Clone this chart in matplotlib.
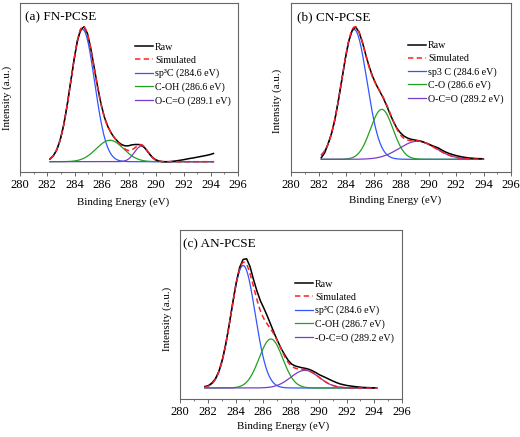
import numpy as np
import matplotlib
matplotlib.use("Agg")
import matplotlib.pyplot as plt
from matplotlib.ticker import MultipleLocator

plt.rcParams['font.family'] = ['Liberation Serif', 'DejaVu Serif']

# ---------------- data ----------------
x_ticks = [280, 282, 284, 286, 288, 290, 292, 294, 296]
xlabel = "Binding Energy (eV)"
ylabel = "Intensity (a.u.)"
legend_raw = "Raw"
legend_sim = "Simulated"

# Panel (a) FN-PCSE
a_title = "(a) FN-PCSE"
a_raw_start = 282.2
a_raw = [0.02, 0.045, 0.09, 0.165, 0.275, 0.42, 0.59, 0.76, 0.91, 1.0,
         1.02, 0.97, 0.855, 0.71, 0.565, 0.435, 0.335, 0.265, 0.215, 0.178,
         0.15, 0.13, 0.12, 0.12, 0.127, 0.13, 0.13, 0.125, 0.1, 0.066,
         0.035, 0.015, 0.005, 0.0, 0.0, 0.0, 0.003, 0.006, 0.01, 0.014,
         0.019, 0.024, 0.028, 0.033, 0.038, 0.043, 0.048, 0.054, 0.062]
a_fit_range = [282.2, 294.2]
a_centers = [284.6, 286.6, 288.9]
a_heights = [1.0, 0.162, 0.117]
a_sigmas = [0.87, 1.0, 0.5]
a_labels = ["sp³C (284.6 eV)", "C-OH (286.6 eV)", "O-C=O (289.1 eV)"]

# Panel (b) CN-PCSE
b_title = "(b) CN-PCSE"
b_raw_start = 282.2
b_raw = [0.012, 0.05, 0.12, 0.2, 0.31, 0.455, 0.615, 0.775, 0.91, 0.995,
         1.02, 0.98, 0.9, 0.8, 0.71, 0.635, 0.575, 0.525, 0.475, 0.415,
         0.35, 0.29, 0.24, 0.205, 0.18, 0.165, 0.155, 0.15, 0.145, 0.14,
         0.13, 0.12, 0.108, 0.098, 0.088, 0.072, 0.058, 0.047, 0.038, 0.03,
         0.024, 0.018, 0.014, 0.01, 0.008, 0.006, 0.005, 0.004]
b_fit_range = [282.2, 294.0]
b_centers = [284.6, 286.6, 289.2]
b_heights = [1.0, 0.385, 0.139]
b_sigmas = [0.92, 0.82, 1.33]
b_labels = ["sp3 C (284.6 eV)", "C-O (286.6 eV)", "O-C=O (289.2 eV)"]

# Panel (c) AN-PCSE
c_title = "(c) AN-PCSE"
c_raw_start = 281.8
c_raw = [0.012, 0.02, 0.04, 0.075, 0.135, 0.23, 0.36, 0.52, 0.695, 0.86,
         0.985, 1.05, 1.055, 0.99, 0.885, 0.79, 0.71, 0.65, 0.585, 0.515,
         0.445, 0.38, 0.32, 0.27, 0.225, 0.195, 0.18, 0.172, 0.165, 0.16,
         0.152, 0.14, 0.125, 0.108, 0.095, 0.082, 0.068, 0.055, 0.043, 0.033,
         0.026, 0.02, 0.016, 0.012, 0.009, 0.006, 0.004, 0.003, 0.002, 0.001]
c_fit_range = [281.8, 294.2]
c_centers = [284.55, 286.55, 289.0]
c_heights = [1.0, 0.40, 0.144]
c_sigmas = [0.87, 0.85, 1.02]
c_labels = ["sp³C (284.6 eV)", "C-OH (286.7 eV)", "-O-C=O (289.2 eV)"]

RAW_STEP = 0.25

# ---------------- style ----------------
W, H = 520, 437
fig = plt.figure(figsize=(W / 100, H / 100), dpi=100)

def px_axes(l, t, r, b):
    return fig.add_axes([l / W, 1 - b / H, (r - l) / W, (b - t) / H])

comp_colors = ['#3355ff', '#22a022', '#7a3cc8']
spine_col = '#666666'

panels = [
    dict(title=a_title, raw=a_raw, start=a_raw_start, rng=a_fit_range,
         c=a_centers, h=a_heights, s=a_sigmas, labels=a_labels,
         box=(20, 3, 238, 172), ylim=(-0.078, 1.2), tx=0.025,
         leg=(0.528, 0.765), ylab=(-0.037, 0.44), xlab=(0.475, -0.148)),
    dict(title=b_title, raw=b_raw, start=b_raw_start, rng=b_fit_range,
         c=b_centers, h=b_heights, s=b_sigmas, labels=b_labels,
         box=(291, 3, 511, 172), ylim=(-0.098, 1.205), tx=0.026,
         leg=(0.532, 0.775), ylab=(-0.041, 0.42), xlab=(0.475, -0.14)),
    dict(title=c_title, raw=c_raw, start=c_raw_start, rng=c_fit_range,
         c=c_centers, h=c_heights, s=c_sigmas, labels=c_labels,
         box=(180, 230, 402, 399), ylim=(-0.09, 1.29), tx=0.015,
         leg=(0.518, 0.705), ylab=(-0.036, 0.474), xlab=(0.465, -0.13)),
]

for p in panels:
    ax = px_axes(*p['box'])
    xr = p['start'] + RAW_STEP * np.arange(len(p['raw']))
    xf = np.linspace(p['rng'][0], p['rng'][1], 600)
    comps = [hh * np.exp(-(xf - cc) ** 2 / (2 * ss ** 2))
             for cc, hh, ss in zip(p['c'], p['h'], p['s'])]
    sim = np.sum(comps, axis=0)

    ax.plot(xr, p['raw'], color='black', lw=1.1, label=legend_raw, zorder=3)
    ax.plot(xf, sim, color='#ff2020', lw=1.1, ls=(0, (3.5, 2.2)),
            label=legend_sim, zorder=4)
    for comp, col, lab in zip(comps, comp_colors, p['labels']):
        ax.plot(xf, comp, color=col, lw=0.9, label=lab, zorder=2)

    ax.set_xlim(280, 296)
    ax.set_ylim(*p['ylim'])
    ax.set_xticks(x_ticks)
    ax.xaxis.set_minor_locator(MultipleLocator(1))
    ax.set_yticks([])
    ax.tick_params(axis='x', which='major', direction='out', length=3,
                   width=0.7, color=spine_col, labelsize=9, pad=2)
    ax.tick_params(axis='x', which='minor', direction='out', length=1.5,
                   width=0.6, color=spine_col)
    for sp in ax.spines.values():
        sp.set_color(spine_col)
        sp.set_linewidth(0.8)

    ax.set_xlabel(xlabel, fontsize=7.8)
    ax.set_ylabel(ylabel, fontsize=7.8)
    ax.yaxis.set_label_coords(*p['ylab'])
    ax.xaxis.set_label_coords(*p['xlab'])

    ax.text(p['tx'], 0.915, p['title'], transform=ax.transAxes, fontsize=9.5,
            ha='left', va='center')

    ax.legend(loc='upper left', bbox_to_anchor=p['leg'], frameon=False,
              fontsize=7.2, handlelength=1.8, handletextpad=0.2,
              labelspacing=0.4, borderpad=0, borderaxespad=0)

fig.savefig("out.png", dpi=100)
